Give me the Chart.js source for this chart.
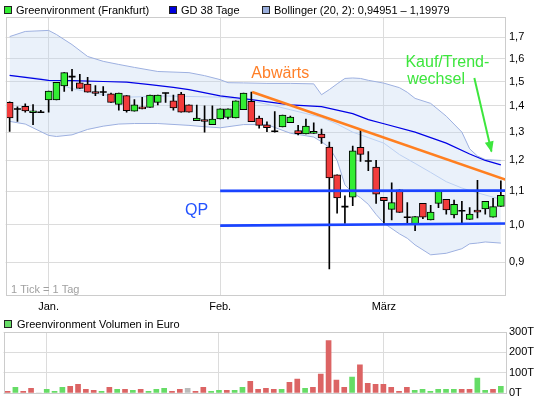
<!DOCTYPE html>
<html><head><meta charset="utf-8">
<script src="https://cdn.jsdelivr.net/npm/chart.js@4.4.0/dist/chart.umd.min.js"></script>
<style>
html,body{margin:0;padding:0;background:#fff;width:544px;height:404px;overflow:hidden;font-family:"Liberation Sans",Arial,sans-serif;}
#main{position:absolute;left:0;top:0;width:544px;height:320px;}
#vol{position:absolute;left:0;top:320px;width:544px;height:84px;}
.lg{position:absolute;font-size:11px;color:#000;line-height:12px;white-space:nowrap;}
.sq{position:absolute;width:6px;height:6px;border:1px solid #222;}
</style></head><body>
<div id="main"><canvas id="c1"></canvas></div>
<div id="vol"><canvas id="c2"></canvas></div>
<div class="sq" style="left:4px;top:6px;background:#33ee33"></div>
<div class="lg" style="left:16px;top:4px">Greenvironment (Frankfurt)</div>
<div class="sq" style="left:169px;top:6px;background:#0000dd"></div>
<div class="lg" style="left:181px;top:4px">GD 38 Tage</div>
<div class="sq" style="left:262px;top:6px;background:#9aaedc"></div>
<div class="lg" style="left:274px;top:4px">Bollinger (20, 2): 0,94951 – 1,19979</div>
<div class="sq" style="left:4px;top:320px;background:#66dd66"></div>
<div class="lg" style="left:17px;top:318px">Greenvironment Volumen in Euro</div>
<script>
// ---- data (trading-day index 0..63) ----
const monthIdx = [5, 27, 48];
const monthLabels = ['Jan.', 'Feb.', 'März'];
const yTicks = [0.9, 1.0, 1.1, 1.2, 1.3, 1.4, 1.5, 1.6, 1.7];
const yTickLabels = ['0,9', '1,0', '1,1', '1,2', '1,3', '1,4', '1,5', '1,6', '1,7'];
const volTicks = [0, 100, 200, 300];
const volTickLabels = ['0T', '100T', '200T', '300T'];

const open = [1.414,1.388,1.398,1.373,1.375,1.424,1.424,1.481,1.521,1.494,
1.489,1.458,1.456,1.449,1.406,1.441,1.379,1.396,1.394,1.414,
1.452,1.420,1.448,1.404,1.343,1.347,1.328,1.349,1.355,1.353,
1.385,1.418,1.353,1.327,1.303,1.319,1.335,1.306,1.293,1.295,
1.293,1.246,1.152,1.053,1.082,1.245,1.198,1.178,1.081,1.045,
1.104,1.022,1.002,1.063,1.014,1.063,1.075,1.029,1.041,1.016,
1.043,1.046,1.022,1.054];
const high = [1.416,1.396,1.408,1.405,1.383,1.460,1.497,1.538,1.552,1.531,
1.518,1.483,1.479,1.452,1.452,1.441,1.425,1.434,1.444,1.444,
1.452,1.443,1.455,1.404,1.403,1.400,1.400,1.388,1.388,1.420,
1.452,1.456,1.360,1.338,1.378,1.364,1.360,1.325,1.349,1.335,
1.311,1.264,1.152,1.086,1.250,1.309,1.230,1.200,1.081,1.126,
1.104,1.065,1.024,1.063,1.057,1.101,1.075,1.073,1.069,1.050,
1.134,1.069,1.078,1.133];
const low = [1.303,1.340,1.375,1.328,1.375,1.375,1.424,1.458,1.461,1.471,
1.455,1.441,1.441,1.414,1.383,1.375,1.379,1.388,1.394,1.404,
1.414,1.383,1.375,1.375,1.343,1.300,1.328,1.349,1.349,1.353,
1.385,1.339,1.315,1.302,1.300,1.319,1.335,1.290,1.293,1.295,
1.259,0.883,1.034,1.004,1.056,1.197,1.166,1.063,1.004,1.014,
1.036,1.006,0.984,1.018,1.014,1.050,1.031,1.020,1.006,1.016,
1.020,1.031,1.022,1.054];
const close = [1.353,1.388,1.380,1.381,1.375,1.460,1.497,1.538,1.521,1.471,
1.455,1.450,1.456,1.414,1.452,1.381,1.404,1.388,1.444,1.444,
1.452,1.392,1.375,1.375,1.353,1.340,1.349,1.388,1.388,1.420,
1.452,1.339,1.325,1.316,1.303,1.364,1.356,1.294,1.322,1.303,
1.279,1.142,1.079,1.053,1.233,1.221,1.198,1.091,1.071,1.065,
1.036,1.022,1.024,1.022,1.037,1.101,1.043,1.060,1.041,1.031,
1.037,1.069,1.053,1.087];

const volume = [8,28,8,23,0,18,8,28,33,43,
18,13,8,28,18,18,13,18,8,18,
23,8,18,23,8,28,8,13,13,13,
28,58,18,23,18,18,53,68,23,28,
93,258,63,28,78,138,48,43,43,28,
8,28,13,18,8,18,18,18,18,18,
73,13,18,33];
const volColor = ['r','g','r','r','n','g','g','g','r','r',
'r','r','g','r','g','r','g','r','g','g',
'g','r','r','n','r','r','g','g','r','g',
'g','r','r','r','r','g','r','r','g','r',
'r','r','r','r','g','r','r','r','r','r',
'r','r','g','g','g','g','g','g','r','r',
'g','g','r','g'];

const bandIdx = [0,2,5,6,8,10,12,14,16,19,23,25,27,28,30,33,36,39,40,41,42,43,44,45,46,47,48,50,51,52,54,56,58,59,60,61,63];
const bandUpper = [1.703,1.728,1.733,1.713,1.665,1.610,1.588,1.574,1.561,1.543,1.538,1.525,1.508,1.495,1.494,1.492,1.492,1.490,1.445,1.466,1.490,1.513,1.515,1.513,1.505,1.499,1.493,1.474,1.455,1.430,1.410,1.360,1.300,1.240,1.215,1.203,1.200];
const bandLower = [1.340,1.330,1.288,1.284,1.290,1.310,1.322,1.330,1.332,1.332,1.325,1.320,1.316,1.320,1.328,1.328,1.296,1.282,1.265,1.245,1.200,1.120,1.095,1.080,1.060,1.030,1.005,0.975,0.963,0.945,0.919,0.923,0.935,0.948,0.950,0.953,0.950];
const midIdx = [0,2,4,8,12,15,20,27,31,34,36,38,40,42,44,46,48,50,52,54,56,58,60,63];
const midVals = [1.525,1.52,1.513,1.47,1.445,1.435,1.44,1.435,1.42,1.40,1.385,1.37,1.355,1.33,1.30,1.28,1.26,1.22,1.19,1.16,1.13,1.11,1.095,1.075];
const gdIdx = [0,5,8,12,15,18,21,23,27,31,36,40,44,46,48,52,56,59,61,63];
const gdVals = [1.526,1.505,1.504,1.50,1.497,1.487,1.475,1.466,1.44,1.425,1.404,1.397,1.37,1.347,1.331,1.30,1.26,1.222,1.20,1.185];

const trendIdx = [31.1, 63.66];
const trendVals = [1.456, 1.136];
const qpIdx = [27, 63.66];
const qpUpper = [1.101, 1.102];
const qpLower = [0.998, 1.004];
const arrowIdx = [59.6, 61.8];
const arrowVals = [1.515, 1.231];
const notes = [
  {text: 'Abwärts', x: 31.0, y: 1.515, color: '#ff7f27'},
  {text: 'QP', x: 22.5, y: 1.029, color: '#2252ff'},
  {text: 'Kauf/Trend-', x: 50.76, y: 1.563, color: '#3de63d'},
  {text: 'wechsel', x: 50.98, y: 1.490, color: '#3de63d'}
];

// ---- styling ----
const FONT = '"Liberation Sans", Arial, sans-serif';
Chart.defaults.font.family = FONT;
Chart.defaults.font.size = 11;
const GREEN = '#33ee33', RED = '#f23c3c', ARROW = '#3de63d';
const GRID = '#dcdcdc';
const XMIN = -0.52, XMAX = 63.66;
const idx = open.map((_, i) => i);
const pts = (xs, ys) => xs.map((x, k) => ({x: x, y: ys[k]}));

const wickData = idx.map(i => ({x: i, y: [low[i], high[i]]}));
const bodyIdx = idx.filter(i => open[i] !== close[i]);
const bodyData = bodyIdx.map(i => ({x: i, y: [open[i], close[i]]}));
const bodyColors = bodyIdx.map(i => close[i] > open[i] ? GREEN : RED);
const dojiData = idx.filter(i => open[i] === close[i]).map(i => ({x: i, y: close[i]}));

const mainPlugin = {
  id: 'mainDeco',
  afterDatasetsDraw(chart) {
    const {ctx, chartArea: a, scales: {x, y}} = chart;
    ctx.save();
    const x0 = x.getPixelForValue(arrowIdx[0]), y0 = y.getPixelForValue(arrowVals[0]);
    const x1 = x.getPixelForValue(arrowIdx[1]), y1 = y.getPixelForValue(arrowVals[1]);
    const ang = Math.atan2(y1 - y0, x1 - x0), c = Math.cos(ang), s = Math.sin(ang);
    ctx.fillStyle = ARROW;
    ctx.beginPath();
    ctx.moveTo(x1 + c, y1 + s);
    ctx.lineTo(x1 - 10 * c + 4.5 * s, y1 - 10 * s - 4.5 * c);
    ctx.lineTo(x1 - 10 * c - 4.5 * s, y1 - 10 * s + 4.5 * c);
    ctx.closePath(); ctx.fill();
    ctx.font = '16px ' + FONT;
    ctx.textAlign = 'left'; ctx.textBaseline = 'alphabetic';
    notes.forEach(t => { ctx.fillStyle = t.color; ctx.fillText(t.text, x.getPixelForValue(t.x), y.getPixelForValue(t.y)); });
    ctx.font = '11px ' + FONT; ctx.fillStyle = '#a0a0a0';
    ctx.fillText('1 Tick = 1 Tag', a.left + 5.5, a.bottom - 3);
    ctx.restore();
  },
  afterDraw(chart) {
    const {ctx, chartArea: a} = chart;
    ctx.save(); ctx.strokeStyle = '#cccccc'; ctx.lineWidth = 1;
    ctx.strokeRect(Math.round(a.left) + 0.5, Math.round(a.top) + 0.5, Math.round(a.right - a.left) - 1, Math.round(a.bottom - a.top) - 1);
    ctx.restore();
  }
};

new Chart(document.getElementById('c1'), {
  type: 'bar',
  data: {datasets: [
    {type: 'line', data: pts(bandIdx, bandUpper), borderColor: '#9db0e0', borderWidth: 1, pointRadius: 0, fill: '+1', backgroundColor: 'rgba(190,210,240,0.32)', order: 20},
    {type: 'line', data: pts(bandIdx, bandLower), borderColor: '#9db0e0', borderWidth: 1, pointRadius: 0, fill: false, order: 19},
    {type: 'line', data: pts(midIdx, midVals), borderColor: '#bcd0f2', borderWidth: 1, pointRadius: 0, fill: false, order: 18},
    {type: 'line', data: pts(gdIdx, gdVals), borderColor: '#0000e6', borderWidth: 1.2, pointRadius: 0, fill: false, order: 17},
    {type: 'bar', data: wickData, backgroundColor: '#000', borderWidth: 0, barThickness: 1, grouped: false, order: 10},
    {type: 'bar', data: bodyData, backgroundColor: bodyColors, borderColor: '#000', borderWidth: 1, borderSkipped: false, barThickness: 7, grouped: false, order: 9},
    {type: 'scatter', data: dojiData, pointStyle: 'line', pointRadius: 3.5, borderColor: '#000', borderWidth: 1.6, order: 8},
    {type: 'line', data: pts(trendIdx, trendVals), borderColor: '#ff7f20', borderWidth: 2.6, pointRadius: 0, fill: false, order: 5},
    {type: 'line', data: pts(qpIdx, qpUpper), borderColor: '#1a44ff', borderWidth: 2.7, pointRadius: 0, fill: false, order: 4},
    {type: 'line', data: pts(qpIdx, qpLower), borderColor: '#1a44ff', borderWidth: 2.7, pointRadius: 0, fill: false, order: 4},
    {type: 'line', data: pts(arrowIdx, arrowVals), borderColor: ARROW, borderWidth: 2, pointRadius: 0, fill: false, order: 3}
  ]},
  options: {
    animation: false, responsive: true, maintainAspectRatio: false,
    layout: {padding: {left: 3.5, top: 17, right: 0, bottom: 0}},
    plugins: {legend: {display: false}, tooltip: {enabled: false}},
    scales: {
      x: {type: 'linear', min: XMIN, max: XMAX, offset: false,
        afterBuildTicks: s => { s.ticks = monthIdx.map(v => ({value: v})); },
        afterFit: s => { s.height = 24; },
        ticks: {callback: (v, i) => monthLabels[i], padding: 4, maxRotation: 0, autoSkip: false, color: '#000', font: {size: 11}},
        grid: {color: GRID, drawTicks: false, offset: false}, border: {display: false}},
      y: {type: 'logarithmic', position: 'right', min: 0.818, max: 1.80,
        afterBuildTicks: s => { s.ticks = yTicks.map(v => ({value: v})); },
        afterFit: s => { s.width = 38; },
        ticks: {callback: (v, i) => yTickLabels[i], padding: 3, autoSkip: false, color: '#000', font: {size: 11}},
        grid: {color: GRID, drawTicks: false}, border: {display: false}}
    }
  },
  plugins: [mainPlugin]
});

const volCol = {r: '#dc6464', g: '#66dc66', n: '#bbbbbb'};
const volPlugin = {
  id: 'volFrame',
  afterDraw(chart) {
    const {ctx, chartArea: a} = chart;
    ctx.save(); ctx.strokeStyle = '#cccccc'; ctx.lineWidth = 1;
    ctx.strokeRect(Math.round(a.left) + 0.5, Math.round(a.top) + 0.5, Math.round(a.right - a.left) - 1, Math.round(a.bottom - a.top));
    ctx.restore();
  }
};
new Chart(document.getElementById('c2'), {
  type: 'bar',
  data: {datasets: [
    {data: idx.map(i => ({x: i, y: volume[i]})), backgroundColor: idx.map(i => volCol[volColor[i]]), borderWidth: 0, barThickness: 5, grouped: false}
  ]},
  options: {
    animation: false, responsive: true, maintainAspectRatio: false,
    layout: {padding: {left: 3.5, top: 12, right: 0, bottom: 11}},
    plugins: {legend: {display: false}, tooltip: {enabled: false}},
    scales: {
      x: {type: 'linear', min: XMIN, max: XMAX, offset: false,
        afterBuildTicks: s => { s.ticks = monthIdx.map(v => ({value: v})); },
        afterFit: s => { s.height = 0; },
        ticks: {display: false},
        grid: {color: GRID, drawTicks: false, offset: false}, border: {display: false}},
      y: {type: 'linear', position: 'right', min: 0, max: 300,
        afterBuildTicks: s => { s.ticks = volTicks.map(v => ({value: v})); },
        afterFit: s => { s.width = 38; },
        ticks: {callback: (v, i) => volTickLabels[i], padding: 3, autoSkip: false, color: '#000', font: {size: 11}},
        grid: {color: GRID, drawTicks: false}, border: {display: false}}
    }
  },
  plugins: [volPlugin]
});
</script>
</body></html>
